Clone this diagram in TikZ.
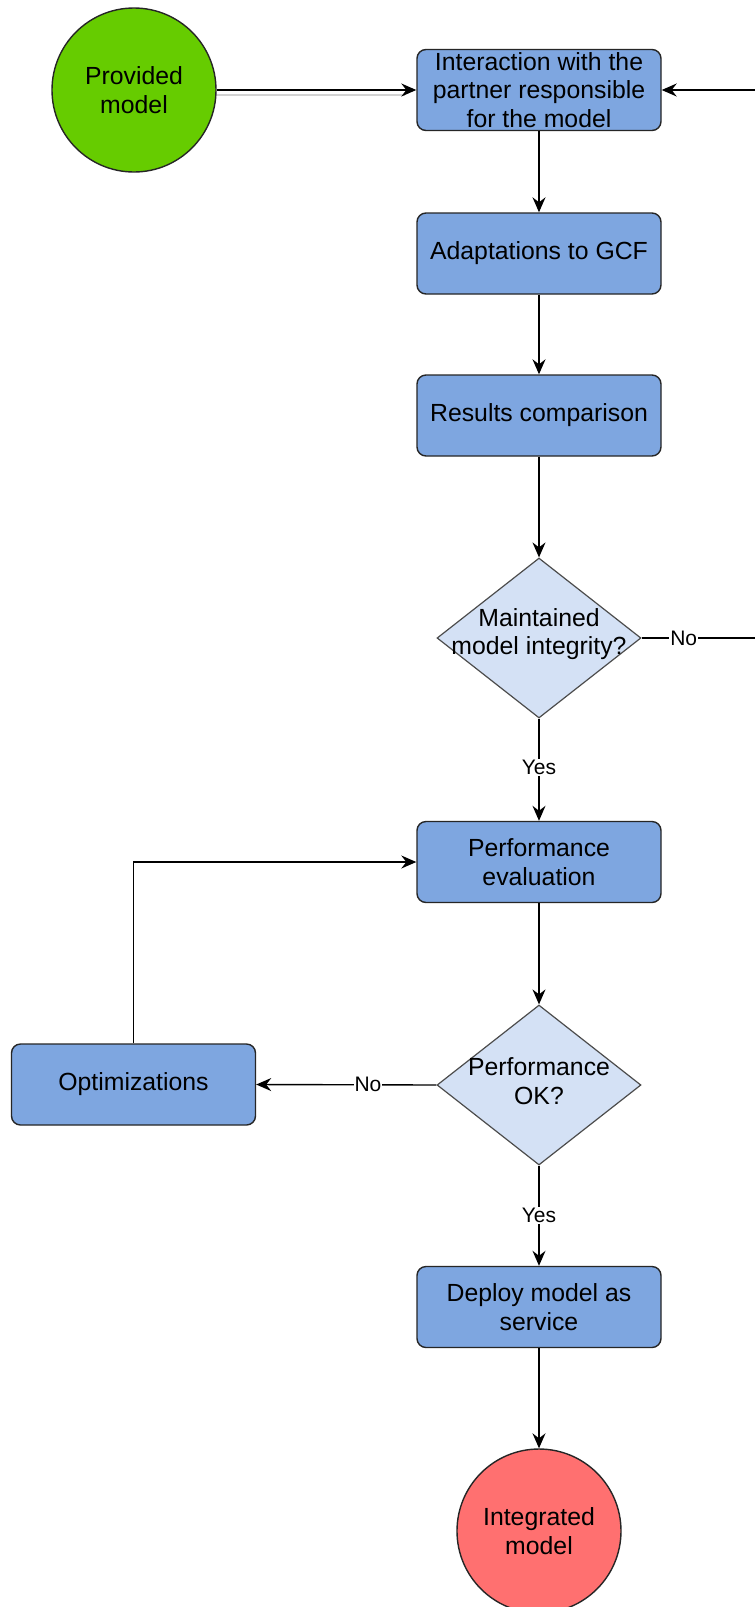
\documentclass[tikz,border=0pt]{standalone}
\usepackage{fontspec}
\setmainfont{Liberation Sans}
\usetikzlibrary{shapes.geometric,arrows.meta}
\definecolor{boxblue}{HTML}{7EA6E0}
\definecolor{diafill}{HTML}{D4E1F5}
\definecolor{startgreen}{HTML}{66CC00}
\definecolor{endred}{HTML}{FF7070}
\begin{document}
\begin{tikzpicture}[x=1pt,y=-1pt,
  every node/.style={font=\fontsize{24.8}{28.5}\selectfont, align=center, inner sep=0pt},
  procbox/.style={draw=black!85, fill=boxblue, rounded corners=9pt, line width=1.4pt, minimum width=244pt, minimum height=81pt},
  decision/.style={diamond, draw=black!70, fill=diafill, line width=1.2pt, minimum width=204pt, minimum height=160pt, aspect=1.275},
  terminal/.style={circle, draw=black!85, line width=1.4pt, minimum size=164pt},
  conn/.style={line width=1.4pt, -{Stealth[length=15pt,width=13pt,inset=5pt]}},
  lbl/.style={fill=white, font=\fontsize{21}{25}\selectfont, inner sep=1pt}]
\clip (0,0) rectangle (755,1607);
\fill[white] (0,0) rectangle (755,1607);
% nodes
\node[terminal, fill=startgreen] (pm) at (134,90) {Provided\\model};
\node[procbox] (int) at (539,90) {Interaction with the\\partner responsible\\for the model};
\node[procbox] (adp) at (539,253.5) {Adaptations to GCF};
\node[procbox] (res) at (539,415.5) {Results comparison};
\node[decision] (d1) at (539,638) {};
\node (d1t) at (539,634) {Maintained\\model integrity?};
\node[procbox] (pe) at (539,862) {Performance\\evaluation};
\node[decision] (d2) at (539,1085) {};
\node (d2t) at (539,1081) {Performance\\OK?};
\node[procbox] (opt) at (133.5,1084.5) {Optimizations};
\node[procbox] (dep) at (539,1307) {Deploy model as\\service};
\node[terminal, fill=endred] (im) at (539,1531) {Integrated\\model};
\coordinate (rc1) at (762,638);
\coordinate (rc2) at (762,90);
% connectors
\draw[gray!35, line width=2pt] ([yshift=-5pt]pm.east) -- ([yshift=-5pt,xshift=-11pt]int.west);
\draw[conn] (pm.east) -- (int.west);
\draw[conn] (int.south) -- (adp.north);
\draw[conn] (adp.south) -- (res.north);
\draw[conn] (res.south) -- (d1.north);
\draw[conn] (d1.east) -- node[lbl, pos=0.35]{No} (rc1) -- (rc2) -- (int.east);
\draw[conn] (d1.south) -- node[lbl, pos=0.48]{Yes} (pe.north);
\draw[conn] (pe.south) -- (d2.north);
\draw[conn] (d2.west) -- node[lbl, pos=0.38]{No} (opt.east);
\draw[conn] (opt.north) |- (pe.west);
\draw[conn] (d2.south) -- node[lbl, pos=0.5]{Yes} (dep.north);
\draw[conn] (dep.south) -- (im.north);
\end{tikzpicture}
\end{document}
